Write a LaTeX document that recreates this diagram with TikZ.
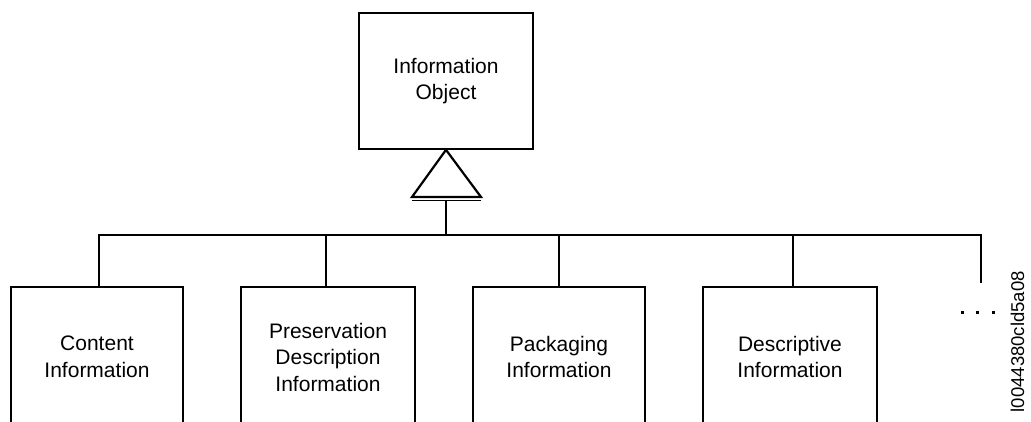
\documentclass[tikz,border=0pt]{standalone}
\usepackage{fontspec}
\setmainfont{Liberation Sans}
\begin{document}
\begin{tikzpicture}[x=1pt,y=-1pt,
  every node/.style={font=\fontsize{21}{26.5}\selectfont},
  obox/.style={draw, line width=1.7pt, rectangle, align=center, inner sep=0pt},
  conn/.style={line width=1.7pt}]
\useasboundingbox (0,0) rectangle (1031,421);
\clip (0,0) rectangle (1031,421);
% top box
\node[obox, minimum width=174pt, minimum height=136pt] (io) at (446,81) {Information\\Object};
% bottom boxes
\node[obox, minimum width=172pt, minimum height=140pt] (ci) at (97,357) {Content\\Information};
\node[obox, minimum width=174pt, minimum height=140pt] (pdi) at (328,357) {Preservation\\Description\\Information};
\node[obox, minimum width=172pt, minimum height=140pt] (pi) at (559,357) {Packaging\\Information};
\node[obox, minimum width=174pt, minimum height=140pt] (di) at (790,357) {Descriptive\\Information};
% generalisation triangle
\coordinate (apex) at (io.south);
\coordinate (bl) at (412,197);
\coordinate (br) at (481,197);
\coordinate (bl2) at (412,200.5);
\coordinate (br2) at (481,200.5);
\coordinate (stem) at (446,200.5);
\draw[line width=2.2pt, line join=miter, fill=white] (apex) -- (bl) -- (br) -- cycle;
\draw[line width=1.3pt] (bl2) -- (br2);
% bus
\coordinate (busL) at (99,235);
\coordinate (busR) at (981,235);
\coordinate (busEnd) at (981,283);
\draw[conn] (stem) -- (446,235);
\draw[conn] (busL |- ci.north) -- (busL) -- (busR) -- (busEnd);
\draw[conn] (pdi.north -| 326,0) -- (326,235);
\draw[conn] (pi.north) -- (pi.north |- busL);
\draw[conn] (di.north -| 793,0) -- (793,235);
% ellipsis dots
\foreach \x [count=\i] in {962,977,993} {
  \node[fill=black, minimum size=3pt, inner sep=0pt] (dot\i) at (\x,312) {};
}
% side label
\node[rotate=90, anchor=east, inner sep=0pt, font=\fontsize{18.5}{20}\selectfont] (lbl) at (1017.5,271) {l0044380cld5a08};
\end{tikzpicture}
\end{document}
